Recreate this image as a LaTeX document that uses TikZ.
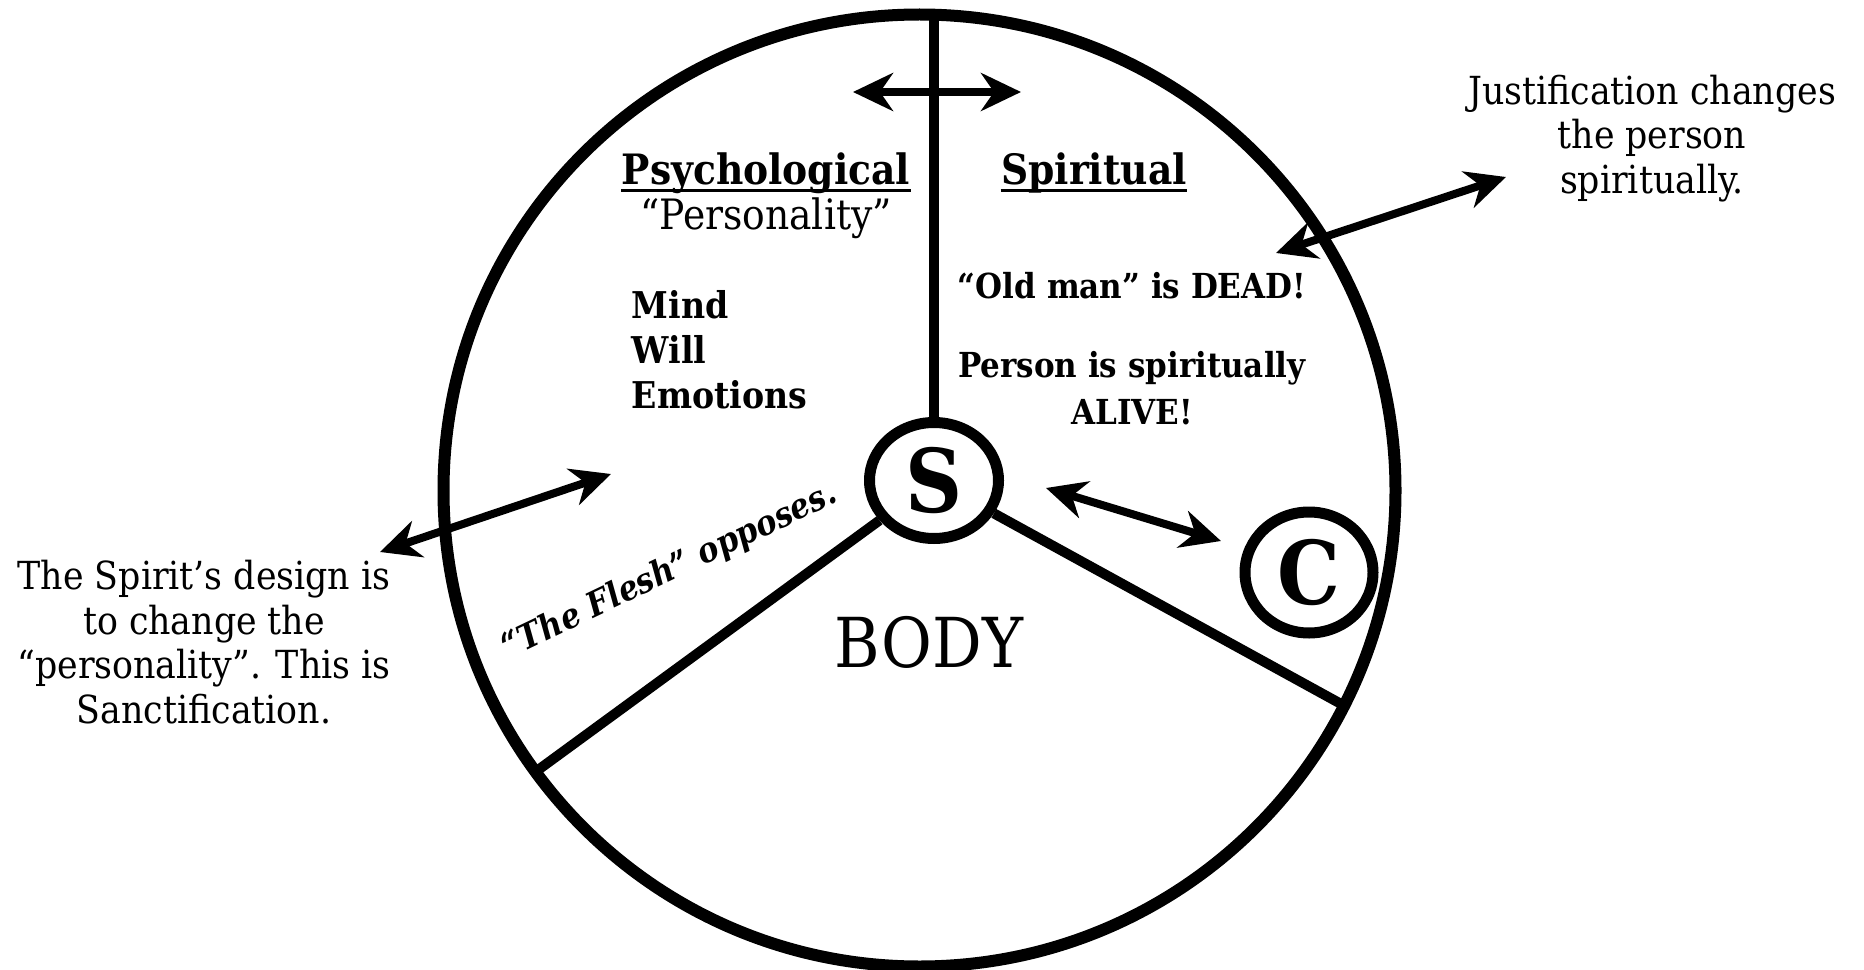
\documentclass[tikz,border=0pt]{standalone}
\usepackage{fontspec}
\setmainfont{DejaVu Serif Condensed}
\usetikzlibrary{arrows.meta,shapes.geometric}
\tikzset{
  rim/.style={line width=0.12cm, draw=black},
  spoke/.style={line width=0.10cm, draw=black, line cap=butt},
  hub/.style={ellipse, draw=black, line width=0.11cm, fill=white, inner sep=0pt,
    minimum width=1.29cm, minimum height=1.16cm, font=\fontsize{25}{25}\selectfont\bfseries},
  twoway/.style={line width=0.08cm, draw=black,
    {Stealth[length=0.40cm,width=0.38cm,inset=0.13cm]}-{Stealth[length=0.40cm,width=0.38cm,inset=0.13cm]}},
  notelabel/.style={font=\fontsize{11}{12.7}\selectfont, align=center, inner sep=0pt},
  headlabel/.style={font=\fontsize{11.9}{13}\selectfont\bfseries, inner sep=0pt},
  innerlabel/.style={font=\fontsize{9.8}{13.4}\selectfont\bfseries, inner sep=0pt},
  ruleline/.style={line width=0.03cm, draw=black},
}

\begin{document}
\begin{tikzpicture}
\useasboundingbox (0,0) rectangle (18.64,9.69);
% outer ring
\draw[rim] (9.195,4.785) circle (4.76);
% hubs
\node[hub] (S) at (9.340,4.885) {S};
\node[hub, minimum width=1.28cm, minimum height=1.21cm] (C) at (13.090,3.965) {C};
% spokes to the ring
\coordinate (rimT) at (9.340,9.545);
\coordinate (rimL) at (5.380,1.990);
\coordinate (rimR) at (13.430,2.640);
\draw[spoke] (S) -- (rimT);
\draw[spoke] (S) -- (rimL);
\draw[spoke] (S) -- (rimR);
% headings
\node[headlabel, anchor=base] (psy) at (7.660,7.840) {Psychological};
\draw[ruleline] ([yshift=-0.06cm]psy.base west) -- ([yshift=-0.06cm]psy.base east);
\node[headlabel, anchor=base] (spi) at (10.940,7.840) {Spiritual};
\draw[ruleline] ([yshift=-0.06cm]spi.base west) -- ([yshift=-0.06cm]spi.base east);
\node[font=\fontsize{11.9}{13}\selectfont, inner sep=0pt, anchor=base] (pers) at (7.660,7.390) {“Personality”};
\node[font=\fontsize{10.5}{12.8}\selectfont\bfseries, inner sep=0pt, align=left, anchor=north west] (faculties) at (6.310,6.790) {Mind\\Will\\Emotions};
\node[innerlabel, anchor=base] (old) at (11.320,6.710) {“Old man” is DEAD!};
\node[innerlabel, align=center, anchor=north] (alive) at (11.320,6.180) {Person is spiritually\\ALIVE!};
\node[font=\fontsize{19.6}{21}\selectfont, inner sep=0pt, anchor=base] (body) at (9.290,3.020) {BODY};
\node[font=\fontsize{9.8}{12}\selectfont\bfseries\itshape, inner sep=0pt, anchor=base, rotate=25.5] (flesh) at (6.740,3.890) {“The Flesh” opposes.};
% side notes
\node[notelabel, anchor=north] (just) at (16.520,8.950) {Justification changes\\the person\\spiritually.};
\node[notelabel, anchor=north] (sanct) at (2.040,4.094) {The Spirit’s design is\\to change the\\“personality”. This is\\Sanctification.};
% two-way arrows
\coordinate (swayL) at (8.530,8.770);
\coordinate (swayR) at (10.210,8.770);
\coordinate (justA) at (12.760,7.160);
\coordinate (justB) at (15.060,7.920);
\coordinate (sanctA) at (3.800,4.170);
\coordinate (sanctB) at (6.110,4.950);
\coordinate (scA) at (10.460,4.810);
\coordinate (scB) at (12.210,4.280);
\draw[twoway] (swayL) -- (swayR);
\draw[twoway] (justA) -- (justB);
\draw[twoway] (sanctA) -- (sanctB);
\draw[twoway] (scA) -- (scB);
\end{tikzpicture}
\end{document}
